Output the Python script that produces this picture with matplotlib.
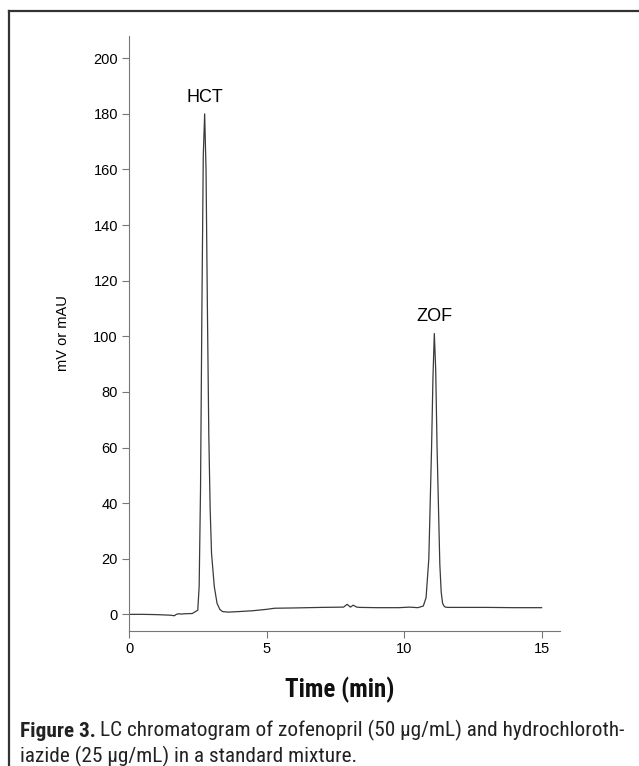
import matplotlib
matplotlib.use("Agg")
import matplotlib.pyplot as plt
from matplotlib.lines import Line2D

# chromatogram trace (time in min, signal in mV or mAU)
time_min = [0.0, 0.5, 1.0, 1.5, 1.65, 1.72, 1.8, 1.9, 2.0, 2.3, 2.5, 2.55, 2.6, 2.65,
            2.7, 2.75, 2.8, 2.85, 2.9, 2.95, 3.0, 3.1, 3.2, 3.3, 3.4, 3.6, 4.0, 4.5,
            5.0, 5.3, 6.0, 7.0, 7.8, 7.93, 8.05, 8.15, 8.28, 8.4, 9.0, 9.8, 10.2, 10.5,
            10.7, 10.8, 10.9, 11.0, 11.05, 11.1, 11.15, 11.2, 11.3, 11.35, 11.4, 11.45,
            11.5, 11.6, 12.0, 13.0, 14.0, 15.0]
signal = [0.0, 0.0, -0.1, -0.3, -0.5, 0.0, 0.2, 0.1, 0.2, 0.3, 1.5, 10, 45, 110,
          165, 180, 160, 110, 65, 38, 22, 10, 4, 1.8, 1.0, 0.8, 1.0, 1.3,
          1.8, 2.2, 2.3, 2.5, 2.6, 3.6, 2.6, 3.3, 2.6, 2.5, 2.4, 2.4, 2.6, 2.4,
          3.0, 6, 20, 60, 85, 101, 88, 60, 18, 8, 4, 3,
          2.6, 2.5, 2.5, 2.5, 2.4, 2.4]

peak_names = ["HCT", "ZOF"]
peak_times = [2.75, 11.1]
peak_label_y = [183, 104]

x_ticks = [0, 5, 10, 15]
y_ticks = [0, 20, 40, 60, 80, 100, 120, 140, 160, 180, 200]

caption_bold = "Figure 3."
caption_line1 = "LC chromatogram of zofenopril (50 \u00b5g/mL) and hydrochloroth-"
caption_line2 = "iazide (25 \u00b5g/mL) in a standard mixture."

narrow = ["Roboto Condensed", "Roboto", "DejaVu Sans"]
plain = ["Liberation Sans", "DejaVu Sans"]

fig = plt.figure(figsize=(6.39, 7.66), dpi=100)
ax = fig.add_axes([0.2019, 0.1762, 0.6745, 0.7768])

ax.plot(time_min, signal, color="#3a3a3a", linewidth=0.9)
for name, t, yl in zip(peak_names, peak_times, peak_label_y):
    ax.text(t, yl, name, ha="center", va="bottom", fontsize=13, family=plain)

ax.set_xlim(0, 15.67)
ax.set_ylim(-6, 208)
ax.set_xticks(x_ticks)
ax.set_yticks(y_ticks)
for side in ["top", "right"]:
    ax.spines[side].set_visible(False)
for side in ["left", "bottom"]:
    ax.spines[side].set_color("#777777")
    ax.spines[side].set_linewidth(0.8)
ax.tick_params(direction="out", length=5, width=0.8, color="#777777",
               labelsize=10.5, pad=3)
for lab in ax.get_xticklabels() + ax.get_yticklabels():
    lab.set_family(plain)
ax.set_ylabel("mV or mAU", fontsize=10.5, family=plain, labelpad=17)

fig.text(0.532, 0.099, "Time (min)", ha="center", va="center", fontsize=18,
         fontweight="bold", family=narrow, color="#111111")

t_bold = fig.text(0.031, 0.045, caption_bold, ha="left", va="center", fontsize=15.3,
                  fontweight="bold", family=narrow, color="#222222")
ax.annotate(caption_line1, xy=(1, 0), xycoords=t_bold, xytext=(3, 0),
            textcoords="offset points", ha="left", va="bottom", fontsize=15.3,
            family=narrow, color="#222222", annotation_clip=False)
fig.text(0.031, 0.013, caption_line2, ha="left", va="center", fontsize=15.3,
         family=narrow, color="#222222")

# outer frame (left and top edges visible)
fig.add_artist(Line2D([0.0141, 0.0141], [0.0, 0.9856], transform=fig.transFigure,
                      color="#333333", linewidth=1.6))
fig.add_artist(Line2D([0.0141, 1.0], [0.9856, 0.9856], transform=fig.transFigure,
                      color="#333333", linewidth=1.6))

fig.savefig("out.png", dpi=100)
